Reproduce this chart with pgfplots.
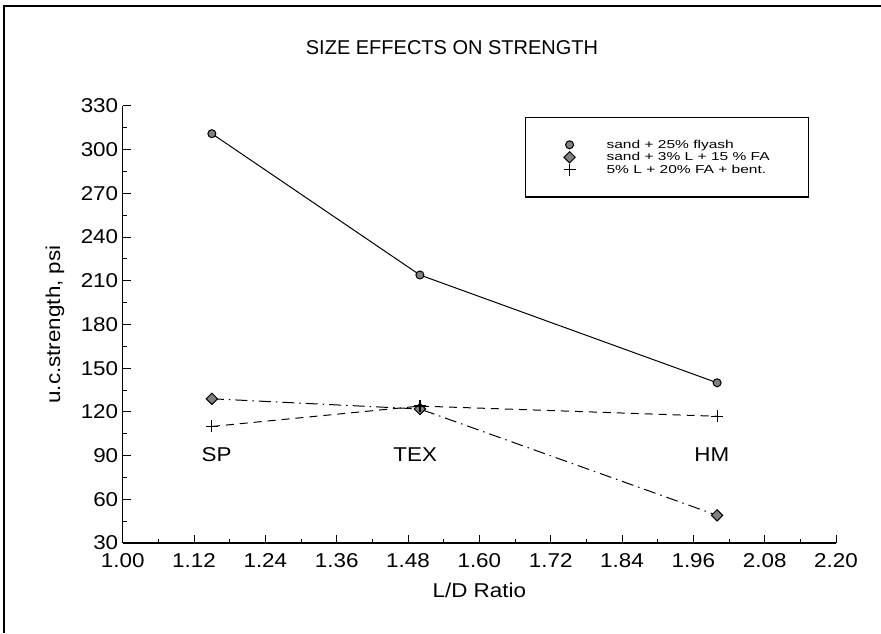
\documentclass[border=0pt]{standalone}
\usepackage{fontspec}
\setmainfont{Liberation Sans}
\newfontfamily\legfont[FakeStretch=1.35]{Liberation Sans}
\newfontfamily\tickfont[FakeStretch=1.12]{Liberation Sans}
\usepackage{pgfplots}
\pgfplotsset{compat=1.18}
\begin{document}
\begin{tikzpicture}
\useasboundingbox (0,0) rectangle (881pt,633pt);
\fill[white] (0,0) rectangle (881pt,633pt);
\draw[line width=1.5pt] (4pt,0) -- (4pt,627pt);
\draw[line width=2.5pt] (3.25pt,627pt) -- (881pt,627pt);
\node[font=\fontsize{20}{24}\selectfont] at (452pt,585pt) {SIZE EFFECTS ON STRENGTH};
\begin{axis}[
  at={(122.7pt,90pt)}, anchor=south west,
  scale only axis, width=713.3pt, height=437pt,
  xmin=1, xmax=2.2, ymin=30, ymax=330,
  axis x line=bottom, axis y line=left,
  axis line style={-, line width=1.3pt},
  xtick={1.00,1.12,1.24,1.36,1.48,1.60,1.72,1.84,1.96,2.08,2.20},
  xticklabels={1.00,1.12,1.24,1.36,1.48,1.60,1.72,1.84,1.96,2.08,2.20},
  ytick={30,60,90,120,150,180,210,240,270,300,330},
  minor x tick num=1, minor y tick num=1,
  tick align=inside, major tick length=8pt, minor tick length=4pt,
  every tick/.style={black, line width=1pt},
  tick label style={font=\tickfont\fontsize{20}{24}\selectfont},
  xticklabel style={yshift=-7pt},
  yticklabel style={xshift=-1pt},
  /pgf/number format/assume math mode=true,
  xlabel={L/D Ratio}, ylabel={u.c.strength, psi},
  label style={font=\tickfont\fontsize{20}{24}\selectfont},
  xlabel style={at={(axis description cs:0.5,-0.108)}, anchor=center},
  ylabel style={at={(axis description cs:-0.095,0.5)}, anchor=center},
  legend image code/.code={\draw[mark repeat=2,mark phase=2,only marks] plot coordinates {(0cm,0cm)(0.3cm,0cm)(0.6cm,0cm)};},
  legend cell align=left,
  legend style={at={(axis description cs:0.564,0.975)}, anchor=north west,
    draw=black, line width=1.2pt, inner xsep=38pt, inner ysep=21pt,
    font=\legfont\fontsize{11.5}{12}\selectfont,
    nodes={inner sep=1pt, text height=8.5pt, text depth=2pt},
    /tikz/every odd column/.append style={column sep=30pt}},
  clip=false,
]
\addplot[black, line width=1pt, mark=*, mark size=4pt, mark options={fill=gray, solid, line width=1pt}]
  coordinates {(1.15,311) (1.50,214) (2.00,140)};
\addlegendentry{sand + 25\% flyash}
\addplot[black, line width=1pt, dash pattern=on 12pt off 5pt on 1.5pt off 5pt, mark=square*, mark size=4pt, mark options={rotate=45, fill=gray, solid, line width=1pt}]
  coordinates {(1.15,129) (1.50,122) (2.00,49)};
\addlegendentry{sand + 3\% L + 15 \% FA}
\addplot[black, line width=1pt, dash pattern=on 8pt off 6pt, mark=+, mark size=6pt, mark options={solid, line width=1.2pt}]
  coordinates {(1.15,110) (1.50,124) (2.00,117)};
\addlegendentry{5\% L + 20\% FA + bent.}
\node[font=\tickfont\fontsize{20}{24}\selectfont] at (axis cs:1.158,91) {SP};
\node[font=\tickfont\fontsize{20}{24}\selectfont] at (axis cs:1.492,91) {TEX};
\node[font=\tickfont\fontsize{20}{24}\selectfont] at (axis cs:1.991,91) {HM};
\end{axis}
\end{tikzpicture}
\end{document}
